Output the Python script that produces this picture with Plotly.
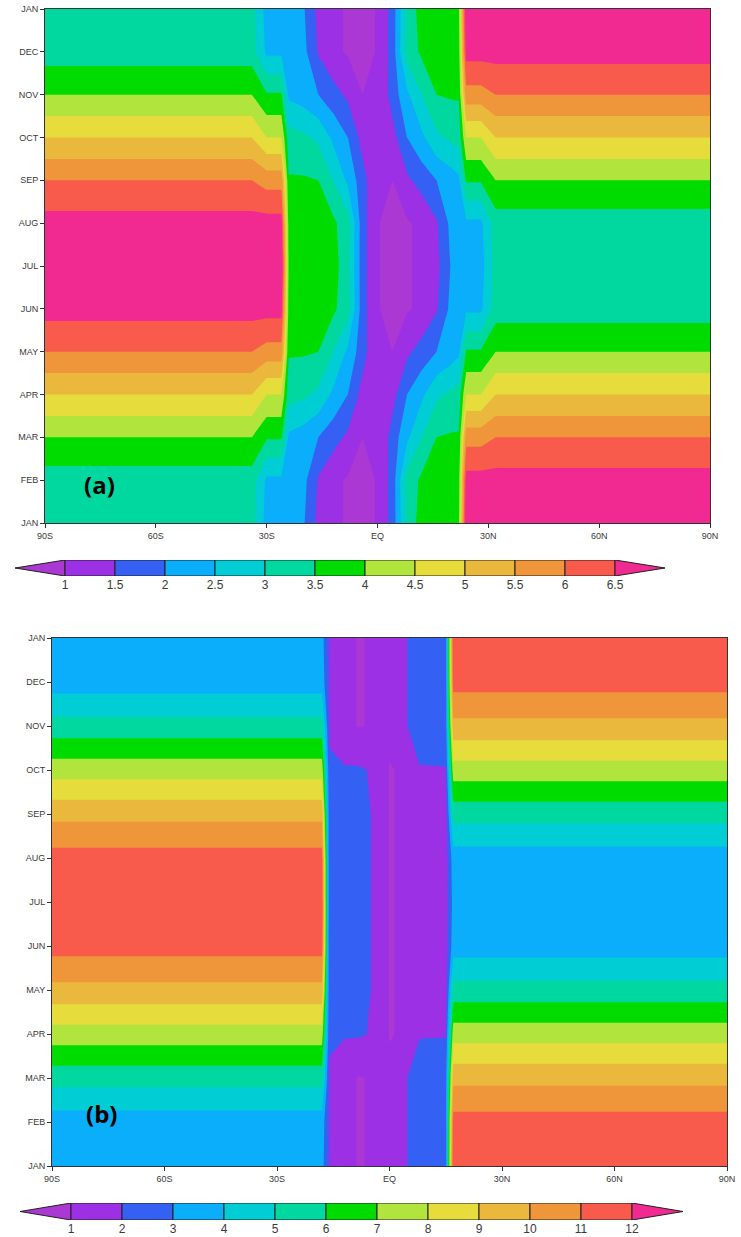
import plotly.graph_objects as go

# ---------------- axis labels ----------------
MONTH_LABELS = ["JAN", "FEB", "MAR", "APR", "MAY", "JUN", "JUL",
                "AUG", "SEP", "OCT", "NOV", "DEC", "JAN"]
MONTH_POS = list(range(13))
LAT_TICKS = [-90, -60, -30, 0, 30, 60, 90]
LAT_LABELS = ["90S", "60S", "30S", "EQ", "30N", "60N", "90N"]

# ---------------- panel (a) data ----------------
LAT_A = [-90, -34, -30, -26, -24, -20, -16, -12, -8, -4, 0,
         4, 8, 12, 16, 20, 22, 24, 28, 32, 90]
A_JAN = [3.2, 3.2, 2.3, 2.3, 2.25, 2.05, 1.35, 1.1, 0.95, 0.9, 1.02,
         1.7, 3.1, 3.75, 3.75, 3.8, 3.9, 7.0, 7.0, 7.0, 7.0]
A_FEB = [3.25, 3.25, 2.4, 2.4, 2.3, 2.15, 1.45, 1.1, 0.95, 0.9, 1.02,
         1.7, 3.2, 3.6, 3.7, 3.75, 3.8, 6.7, 6.7, 6.7, 6.7]
A_MAR = [4.0, 4.0, 3.55, 3.55, 2.4, 2.25, 2.0, 1.7, 1.4, 1.0, 1.02,
         1.7, 2.4, 3.0, 3.5, 3.55, 3.55, 5.8, 5.8, 6.0, 6.0]
A_APR = [5.0, 5.0, 4.5, 4.5, 3.2, 3.1, 2.9, 2.4, 2.0, 1.3, 1.02,
         1.3, 2.0, 2.4, 2.9, 3.1, 3.2, 4.5, 4.5, 5.0, 5.0]
A_MAY = [6.0, 6.0, 5.8, 5.8, 3.55, 3.55, 3.5, 3.0, 2.4, 1.7, 1.02,
         1.0, 1.4, 1.7, 2.0, 2.25, 2.4, 3.55, 3.55, 4.0, 4.0]
A_JUN = [6.7, 6.7, 6.7, 6.7, 3.8, 3.75, 3.7, 3.6, 3.2, 1.7, 1.02,
         0.9, 0.95, 1.1, 1.45, 2.15, 2.3, 2.4, 2.4, 3.25, 3.25]
A_JUL = [7.0, 7.0, 7.0, 7.0, 3.9, 3.8, 3.75, 3.75, 3.1, 1.7, 1.02,
         0.9, 0.95, 1.1, 1.35, 2.05, 2.25, 2.3, 2.3, 3.2, 3.2]
A_AUG = [6.7, 6.7, 6.7, 6.7, 3.8, 3.75, 3.7, 3.6, 3.2, 1.7, 1.02,
         0.9, 0.95, 1.1, 1.45, 2.15, 2.3, 2.4, 2.4, 3.25, 3.25]
A_SEP = [6.0, 6.0, 5.8, 5.8, 3.55, 3.55, 3.5, 3.0, 2.4, 1.7, 1.02,
         1.0, 1.4, 1.7, 2.0, 2.25, 2.4, 3.55, 3.55, 4.0, 4.0]
A_OCT = [5.0, 5.0, 4.5, 4.5, 3.2, 3.1, 2.9, 2.4, 2.0, 1.3, 1.02,
         1.3, 2.0, 2.4, 2.9, 3.1, 3.2, 4.5, 4.5, 5.0, 5.0]
A_NOV = [4.0, 4.0, 3.55, 3.55, 2.4, 2.25, 2.0, 1.7, 1.4, 1.0, 1.02,
         1.7, 2.4, 3.0, 3.5, 3.55, 3.55, 5.8, 5.8, 6.0, 6.0]
A_DEC = [3.25, 3.25, 2.4, 2.4, 2.3, 2.15, 1.45, 1.1, 0.95, 0.9, 1.02,
         1.7, 3.2, 3.6, 3.7, 3.75, 3.8, 6.7, 6.7, 6.7, 6.7]
Z_A = [A_JAN, A_FEB, A_MAR, A_APR, A_MAY, A_JUN, A_JUL,
       A_AUG, A_SEP, A_OCT, A_NOV, A_DEC, A_JAN]
LEVELS_A = [1, 1.5, 2, 2.5, 3, 3.5, 4, 4.5, 5, 5.5, 6, 6.5]
LEVEL_LABELS_A = ["1", "1.5", "2", "2.5", "3", "3.5", "4", "4.5",
                  "5", "5.5", "6", "6.5"]

# ---------------- panel (b) data ----------------
LAT_B = [-90, -18, -16, -12, -8, -4, 0, 4, 8, 12, 15, 17, 90]
B_JAN = [3.3, 3.3, 1.9, 1.2, 0.95, 1.1, 1.2, 1.9, 2.4, 2.5, 2.6, 11.8, 11.8]
B_FEB = [3.5, 3.5, 1.9, 1.2, 0.95, 1.1, 1.2, 1.9, 2.4, 2.5, 2.6, 11.4, 11.4]
B_MAR = [5.4, 5.4, 1.9, 1.2, 0.95, 1.1, 1.2, 1.9, 2.4, 2.5, 2.6, 9.7, 9.7]
B_APR = [7.55, 7.55, 2.1, 2.1, 2.1, 1.9, 0.95, 1.1, 1.95, 1.95, 1.95, 7.55, 7.55]
B_MAY = [9.7, 9.7, 2.3, 2.4, 2.3, 1.9, 0.95, 1.1, 1.3, 1.3, 1.5, 5.4, 5.4]
B_JUN = [11.4, 11.4, 2.3, 2.4, 2.3, 1.9, 0.95, 1.1, 1.3, 1.3, 1.5, 3.5, 3.5]
B_JUL = [11.8, 11.8, 2.3, 2.4, 2.3, 1.9, 0.95, 1.1, 1.3, 1.3, 1.5, 3.3, 3.3]
B_AUG = [11.4, 11.4, 2.3, 2.4, 2.3, 1.9, 0.95, 1.1, 1.3, 1.3, 1.5, 3.5, 3.5]
B_SEP = [9.7, 9.7, 2.3, 2.4, 2.3, 1.9, 0.95, 1.1, 1.3, 1.3, 1.5, 5.4, 5.4]
B_OCT = [7.55, 7.55, 2.1, 2.1, 2.1, 1.9, 0.95, 1.1, 1.95, 1.95, 1.95, 7.55, 7.55]
B_NOV = [5.4, 5.4, 1.9, 1.2, 0.95, 1.1, 1.2, 1.9, 2.4, 2.5, 2.6, 9.7, 9.7]
B_DEC = [3.5, 3.5, 1.9, 1.2, 0.95, 1.1, 1.2, 1.9, 2.4, 2.5, 2.6, 11.4, 11.4]
Z_B = [B_JAN, B_FEB, B_MAR, B_APR, B_MAY, B_JUN, B_JUL,
       B_AUG, B_SEP, B_OCT, B_NOV, B_DEC, B_JAN]
LEVELS_B = [1, 2, 3, 4, 5, 6, 7, 8, 9, 10, 11, 12]
LEVEL_LABELS_B = [str(v) for v in LEVELS_B]

# ---------------- colours (below-range, 11 bands, above-range) ----------------
COLORS = ["#ac38d4", "#9b30e4", "#3560f4", "#0aaefa", "#00ced4", "#00d8a0",
          "#00dc00", "#b2e43e", "#e6dc3c", "#eab83c", "#f0963a", "#f85a4c",
          "#f02a90"]
N = len(COLORS) - 1
COLORSCALE = [[i / N, c] for i, c in enumerate(COLORS)]

W, H = 741, 1237
FONT = "Liberation Sans"
TICKCOL = "#3a3a3a"


def dom_x(a, b):
    return [a / W, b / W]


def dom_y(top, bottom):
    return [1 - bottom / H, 1 - top / H]


fig = go.Figure()

fig.add_trace(go.Contour(
    x=LAT_A, y=MONTH_POS, z=Z_A, xaxis="x", yaxis="y",
    autocontour=False,
    contours=dict(start=LEVELS_A[0], end=LEVELS_A[-1],
                  size=LEVELS_A[1] - LEVELS_A[0], coloring="fill", showlines=False),
    colorscale=COLORSCALE, showscale=False, line=dict(width=0, smoothing=0),
    hoverinfo="skip"))

fig.add_trace(go.Contour(
    x=LAT_B, y=MONTH_POS, z=Z_B, xaxis="x2", yaxis="y2",
    autocontour=False,
    contours=dict(start=LEVELS_B[0], end=LEVELS_B[-1],
                  size=LEVELS_B[1] - LEVELS_B[0], coloring="fill", showlines=False),
    colorscale=COLORSCALE, showscale=False, line=dict(width=0, smoothing=0),
    hoverinfo="skip"))


def add_colorbar(levels, xa, ya):
    step = levels[1] - levels[0]
    lo = levels[0] - step
    hi = levels[-1] + step
    fig.add_trace(go.Scatter(
        x=[lo, levels[0], levels[0], lo], y=[0.5, 0, 1, 0.5],
        mode="lines", fill="toself", fillcolor=COLORS[0],
        line=dict(color="#202020", width=1), xaxis=xa, yaxis=ya,
        hoverinfo="skip", showlegend=False))
    for i in range(len(levels) - 1):
        a, b = levels[i], levels[i + 1]
        fig.add_trace(go.Scatter(
            x=[a, b, b, a, a], y=[0, 0, 1, 1, 0],
            mode="lines", fill="toself", fillcolor=COLORS[i + 1],
            line=dict(color="#202020", width=1), xaxis=xa, yaxis=ya,
            hoverinfo="skip", showlegend=False))
    fig.add_trace(go.Scatter(
        x=[levels[-1], hi, levels[-1], levels[-1]], y=[0, 0.5, 1, 0],
        mode="lines", fill="toself", fillcolor=COLORS[-1],
        line=dict(color="#202020", width=1), xaxis=xa, yaxis=ya,
        hoverinfo="skip", showlegend=False))
    return lo, hi


lo_a, hi_a = add_colorbar(LEVELS_A, "x3", "y3")
lo_b, hi_b = add_colorbar(LEVELS_B, "x4", "y4")

panel_x = dict(tickmode="array", tickvals=LAT_TICKS, ticktext=LAT_LABELS,
               range=[-90, 90], ticks="outside", ticklen=4, tickcolor="#333",
               showline=True, mirror=True, linecolor="#333", linewidth=1,
               showgrid=False, zeroline=False, automargin=False,
               tickfont=dict(family=FONT, size=9, color=TICKCOL))
panel_y = dict(tickmode="array", tickvals=MONTH_POS, ticktext=MONTH_LABELS,
               range=[0, 12], ticks="outside", ticklen=4, tickcolor="#333",
               showline=True, mirror=True, linecolor="#333", linewidth=1,
               showgrid=False, zeroline=False, automargin=False,
               tickfont=dict(family=FONT, size=9, color=TICKCOL))
cb_y = dict(range=[0, 1], visible=False, fixedrange=True, automargin=False)

fig.update_layout(
    width=W, height=H,
    margin=dict(l=0, r=0, t=0, b=0, autoexpand=False),
    paper_bgcolor="white", plot_bgcolor="white",
    showlegend=False,
    xaxis=dict(panel_x, domain=dom_x(45, 710), anchor="y"),
    yaxis=dict(panel_y, domain=dom_y(9, 523), anchor="x"),
    xaxis2=dict(panel_x, domain=dom_x(52, 727), anchor="y2"),
    yaxis2=dict(panel_y, domain=dom_y(638, 1166), anchor="x2"),
    xaxis3=dict(domain=dom_x(15, 665), anchor="y3", range=[lo_a, hi_a],
                tickmode="array", tickvals=LEVELS_A, ticktext=LEVEL_LABELS_A,
                showline=False, showgrid=False, zeroline=False, ticks="",
                automargin=False,
                tickfont=dict(family=FONT, size=12, color=TICKCOL)),
    yaxis3=dict(cb_y, domain=dom_y(560, 576), anchor="x3"),
    xaxis4=dict(domain=dom_x(20, 683), anchor="y4", range=[lo_b, hi_b],
                tickmode="array", tickvals=LEVELS_B, ticktext=LEVEL_LABELS_B,
                showline=False, showgrid=False, zeroline=False, ticks="",
                automargin=False,
                tickfont=dict(family=FONT, size=12, color=TICKCOL)),
    yaxis4=dict(cb_y, domain=dom_y(1203, 1220), anchor="x4"),
    annotations=[
        dict(text="<b>(a)</b>", x=99 / W, y=1 - 484 / H, xref="paper", yref="paper",
             showarrow=False, xanchor="center", yanchor="middle",
             font=dict(family="Open Sans", size=24, color="black")),
        dict(text="<b>(b)</b>", x=101 / W, y=1 - 1113 / H, xref="paper", yref="paper",
             showarrow=False, xanchor="center", yanchor="middle",
             font=dict(family="Open Sans", size=24, color="black")),
    ],
)

# remove the page's default 8px body margin so the figure sits at the window origin
fig.write_html("out.html",
               config={"displayModeBar": False, "staticPlot": True},
               post_script="document.body.style.margin='0';"
                           "document.body.style.overflow='hidden';")
